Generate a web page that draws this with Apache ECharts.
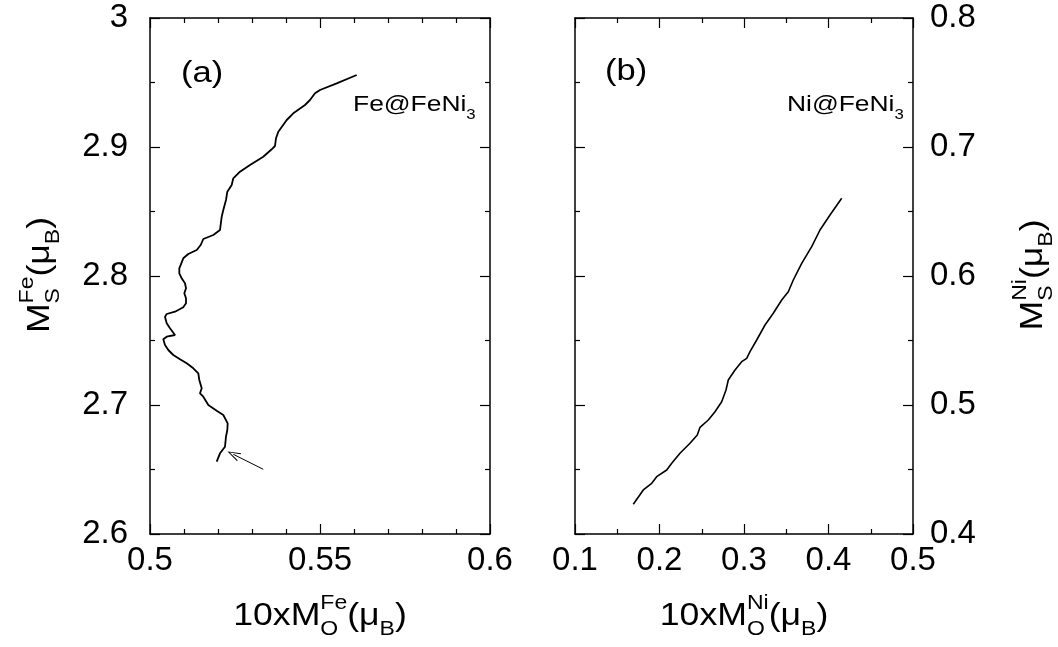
<!DOCTYPE html>
<html>
<head>
<meta charset="utf-8">
<script src="https://cdn.jsdelivr.net/npm/echarts@6/dist/echarts.min.js"></script>
<style>
  html, body { margin: 0; padding: 0; background: #fff; }
  #chart { width: 1058px; height: 647px; }
</style>
</head>
<body>
<div id="chart"></div>
<script>
// (a) Fe@FeNi3 trajectory, from the arrow (start) upward
const feX = [0.51962, 0.52059, 0.52206, 0.52235, 0.52274, 0.52285, 0.52156, 0.51962, 0.51715, 0.51568,
  0.51471, 0.51521, 0.51450, 0.51421, 0.51274, 0.51079, 0.50882, 0.50685, 0.50538, 0.50441,
  0.50391, 0.50491, 0.50735, 0.50588, 0.50491, 0.50441, 0.50491, 0.50735, 0.50979, 0.51059,
  0.51059, 0.51009, 0.51059, 0.51029, 0.50932, 0.50862, 0.50862, 0.50979, 0.51126, 0.51374,
  0.51491, 0.51568, 0.51862, 0.52059, 0.52109, 0.52156, 0.52235, 0.52274, 0.52403, 0.52450,
  0.52647, 0.52941, 0.53332, 0.53579, 0.53676, 0.53706, 0.53774, 0.54021, 0.54215, 0.54559,
  0.54706, 0.54853, 0.55000, 0.55491, 0.56079];
const feY = [2.65605, 2.66256, 2.66767, 2.67543, 2.68062, 2.68581, 2.69225, 2.69558, 2.70000, 2.70643,
  2.70907, 2.71295, 2.71938, 2.72457, 2.72845, 2.73233, 2.73543, 2.73876, 2.74264, 2.74651,
  2.75093, 2.75295, 2.75426, 2.75946, 2.76333, 2.76845, 2.77054, 2.77233, 2.77574, 2.77884,
  2.78271, 2.78659, 2.79047, 2.79434, 2.79822, 2.80209, 2.80597, 2.81372, 2.81705, 2.82016,
  2.82403, 2.82868, 2.83178, 2.83566, 2.84597, 2.85116, 2.85891, 2.86535, 2.87054, 2.87574,
  2.88085, 2.88605, 2.89248, 2.89822, 2.90078, 2.90674, 2.91186, 2.92093, 2.92612, 2.93256,
  2.93643, 2.94163, 2.94419, 2.94938, 2.95581];

// (b) Ni@FeNi3
const niX = [0.16900, 0.18083, 0.19077, 0.19669, 0.20852, 0.21444, 0.22426, 0.23609, 0.24473, 0.24793,
  0.25775, 0.26568, 0.27361, 0.27870, 0.28142, 0.28935, 0.29728, 0.30320, 0.30710, 0.31503,
  0.32485, 0.33467, 0.34462, 0.35243, 0.35834, 0.36828, 0.38012, 0.38994, 0.40178, 0.41562];
const niY = [0.42302, 0.43411, 0.43930, 0.44442, 0.44961, 0.45481, 0.46256, 0.47031, 0.47674, 0.48271,
  0.48837, 0.49481, 0.50256, 0.51163, 0.51938, 0.52713, 0.53357, 0.53620, 0.54132, 0.55039,
  0.56202, 0.57109, 0.58140, 0.58783, 0.59690, 0.60984, 0.62271, 0.63566, 0.64729, 0.66023];

// arrow pointing at the start of curve (a): [x, y] tail -> head
const arrowFrom = [0.53332, 2.65016];
const arrowTo = [0.52450, 2.66178];

// axis ranges [min, max, interval, minor splits]
const axA_x = [0.5, 0.6, 0.05, 5];
const axA_y = [2.6, 3.0, 0.1, 2];
const axB_x = [0.1, 0.5, 0.1, 2];
const axB_y = [0.4, 0.8, 0.1, 2];

const FONT = '"Liberation Sans", Arial, Helvetica, sans-serif';
const chart = echarts.init(document.getElementById('chart'));

const measure = document.createElement('canvas').getContext('2d');
function textWidth(str, size) {
    measure.font = size + 'px ' + FONT;
    return measure.measureText(str).width;
}

// 把带上下标的文字拆成几个 text 元素
function sciLabel(parts, big, small, anchor) {
    let x = 0;
    const kids = [];
    const mk = (t, size, dx, dy) => ({
        type: 'text', x: dx, y: dy, silent: true,
        style: { text: t, font: size + 'px ' + FONT, fill: '#000',
                 textAlign: 'left', textVerticalAlign: 'middle', align: 'left', verticalAlign: 'middle' }
    });
    parts.forEach(p => {
        if (typeof p === 'string') {
            kids.push(mk(p, big, x, 0));
            x += textWidth(p, big);
        } else {
            let w = 0;
            if (p.sup) { kids.push(mk(p.sup, small, x, -0.4 * big)); w = Math.max(w, textWidth(p.sup, small)); }
            if (p.sub) { kids.push(mk(p.sub, small, x, 0.45 * big)); w = Math.max(w, textWidth(p.sub, small)); }
            x += w;
        }
    });
    const shift = anchor === 'center' ? -x / 2 : 0;
    kids.forEach(k => { k.x += shift; });
    return kids;
}

function group(kids, x, y, rot, sx) {
    return { type: 'group', x: x, y: y, rotation: rot || 0, scaleX: sx || 1.15, children: kids };
}

function valueAxis(grid, range, pos, showLabel, labelMargin) {
    return {
        type: 'value', gridIndex: grid, position: pos,
        min: range[0], max: range[1], interval: range[2],
        axisLine: { show: true, onZero: false, lineStyle: { color: '#000', width: 1.5 } },
        axisTick: { show: true, inside: true, length: 10, lineStyle: { color: '#000', width: 1.2 } },
        minorTick: { show: true, splitNumber: range[3], length: 5, lineStyle: { color: '#000', width: 1.2 } },
        splitLine: { show: false },
        axisLabel: { show: showLabel, color: '#000', fontFamily: FONT, fontSize: 33, margin: labelMargin }
    };
}

const BIG = 31, SMALL = 20;

const option = {
    animation: false,
    backgroundColor: '#fff',
    grid: [
        { left: 150, top: 18, width: 340, height: 516 },
        { left: 575, top: 18, width: 338, height: 516 }
    ],
    xAxis: [
        valueAxis(0, axA_x, 'bottom', true, 10),
        valueAxis(0, axA_x, 'top', false, 8),
        valueAxis(1, axB_x, 'bottom', true, 10),
        valueAxis(1, axB_x, 'top', false, 8)
    ],
    yAxis: [
        valueAxis(0, axA_y, 'left', true, 22),
        valueAxis(0, axA_y, 'right', false, 8),
        valueAxis(1, axB_y, 'left', false, 8),
        valueAxis(1, axB_y, 'right', true, 17)
    ],
    series: [
        {
            type: 'line', xAxisIndex: 0, yAxisIndex: 0,
            data: feX.map((x, i) => [x, feY[i]]),
            showSymbol: false, symbol: 'none',
            lineStyle: { color: '#000', width: 1.8 },
            markLine: {
                silent: true,
                symbol: ['none', 'path://M5,0 L10,13 L8.8,13 L5,2.6 L1.2,13 L0,13 Z'],
                symbolSize: [9, 13],
                label: { show: false },
                lineStyle: { color: '#000', width: 1, type: 'solid' },
                data: [[{ coord: arrowFrom }, { coord: arrowTo }]]
            }
        },
        {
            type: 'line', xAxisIndex: 2, yAxisIndex: 2,
            data: niX.map((x, i) => [x, niY[i]]),
            showSymbol: false, symbol: 'none',
            lineStyle: { color: '#000', width: 1.6 }
        }
    ],
    graphic: [
        group(sciLabel(['(a)'], 30, 20, 'left'), 181, 74),
        group(sciLabel(['(b)'], 30, 20, 'left'), 605, 72),
        group(sciLabel(['Fe@FeNi', { sub: '3' }], 22, 14, 'left'), 353, 105, 0, 1.2),
        group(sciLabel(['Ni@FeNi', { sub: '3' }], 22, 14, 'left'), 787, 105, 0, 1.2),
        // 轴标题
        group(sciLabel(['10xM', { sup: 'Fe', sub: 'O' }, '(\u03bc', { sub: 'B' }, ')'], BIG, SMALL, 'center'), 320, 616),
        group(sciLabel(['10xM', { sup: 'Ni', sub: 'O' }, '(\u03bc', { sub: 'B' }, ')'], BIG, SMALL, 'center'), 744, 616),
        group(sciLabel(['M', { sup: 'Fe', sub: 'S' }, '(\u03bc', { sub: 'B' }, ')'], BIG, SMALL, 'center'), 40, 275, Math.PI / 2),
        group(sciLabel(['M', { sup: 'Ni', sub: 'S' }, '(\u03bc', { sub: 'B' }, ')'], BIG, SMALL, 'center'), 1033, 275, Math.PI / 2)
    ]
};

chart.setOption(option);
</script>
</body>
</html>
